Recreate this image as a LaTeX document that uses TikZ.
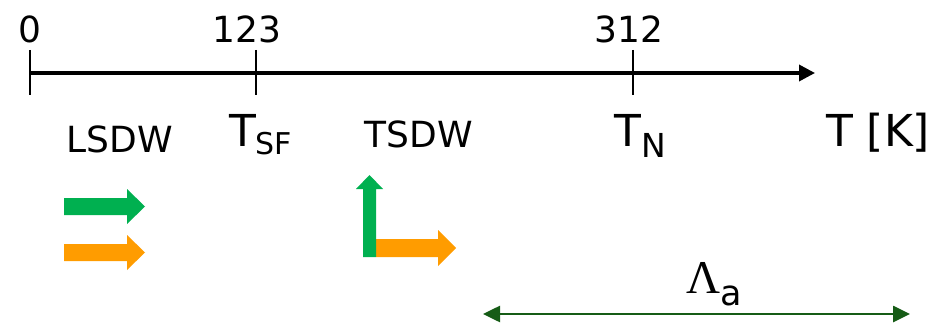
\documentclass[tikz,border=0pt]{standalone}
\usepackage{fontspec}
\setmainfont{DejaVu Sans}
\newfontfamily\lambdafont{Liberation Serif}
\usetikzlibrary{arrows.meta}
\definecolor{spingreen}{RGB}{0,176,80}
\definecolor{spinorange}{RGB}{255,156,0}
\definecolor{lengthgreen}{RGB}{22,92,22}
\newcommand{\fs}[1]{\fontsize{#1}{#1}\selectfont}
\tikzset{
  x=1pt, y=-1pt,
  lbl/.style={inner sep=0pt, outer sep=0pt, anchor=base, font=\fs{36}},
  sym/.style={inner sep=0pt, outer sep=0pt, anchor=base west, font=\fs{44}},
  axisline/.style={line width=3.5pt, -{Triangle[length=16pt,width=16pt]}},
  tickline/.style={line width=2.7pt},
  spanline/.style={line width=2.6pt, lengthgreen,
    {Triangle[length=17pt,width=16pt]}-{Triangle[length=17pt,width=16pt]}},
}
\begin{document}
\begin{tikzpicture}
\useasboundingbox (0,0) rectangle (941,331);

% temperature axis
\coordinate (ax0) at (30,73);
\coordinate (ax1) at (815,73);
\draw[axisline] (ax0) -- (ax1);

% ticks at 0, 123 and 312 K
\coordinate (t0a) at (30,50);  \coordinate (t0b) at (30,95);
\coordinate (t1a) at (256,50); \coordinate (t1b) at (256,95);
\coordinate (t2a) at (633,50); \coordinate (t2b) at (633,95);
\draw[tickline] (t0a) -- (t0b);
\draw[tickline] (t1a) -- (t1b);
\draw[tickline] (t2a) -- (t2b);

% values above the ticks
\node[lbl] (v0) at (30,43) {0};
\node[lbl] (v1) at (247,43) {123};
\node[lbl] (v2) at (629,43) {312};

% phase names and transition temperatures
\node[lbl] (lsdw) at (119.5,153) {LSDW};
\node[lbl] (tsdw) at (419,148) {TSDW};
\node[sym] (tsf) at (229,147) {T\raisebox{-8pt}{\fs{30}SF}};
\node[sym] (tn) at (614,147) {T\hspace{1pt}\raisebox{-10pt}{\fs{33}N}};
\node[sym] (tk) at (826,147) {T [K]};

% longitudinal order: parallel moments
\fill[spingreen] (64,198) -- (127,198) -- (127,189) -- (145,206.5)
  -- (127,224) -- (127,215) -- (64,215) -- cycle;
\fill[spinorange] (64,244) -- (127,244) -- (127,235) -- (145,252.5)
  -- (127,270) -- (127,261) -- (64,261) -- cycle;

% transverse order: perpendicular moments
\fill[spinorange] (376,239) -- (438,239) -- (438,230) -- (456,248)
  -- (438,266) -- (438,257) -- (376,257) -- cycle;
\fill[spingreen] (363,257) -- (363,189) -- (356,189) -- (369.5,175)
  -- (383,189) -- (376,189) -- (376,257) -- cycle;

% length scale
\coordinate (la) at (483,314);
\coordinate (lb) at (910,314);
\draw[spanline] (la) -- (lb);
\node[inner sep=0pt, anchor=base west] (lam) at (686,293)
  {{\lambdafont\fs{47}\symbol{"039B}}\raisebox{-12pt}{\fs{35}a}};
\end{tikzpicture}
\end{document}
